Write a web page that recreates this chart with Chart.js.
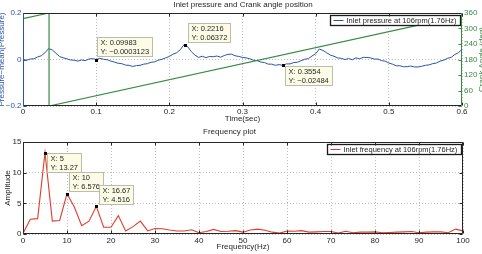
<!DOCTYPE html>
<html lang="en">
<head>
<meta charset="UTF-8">
<title>Inlet pressure and Crank angle position</title>
<style>
  html, body { margin: 0; padding: 0; background: #fff; overflow: hidden; width: 482px; height: 254px; }
  canvas { position: absolute; left: -4px; }
  #graficoPresion { top: 0; }
  #graficoFrecuencia { top: 125px; }
</style>
<script src="https://cdn.jsdelivr.net/npm/chart.js"></script>
</head>
<body>
<canvas id="graficoPresion" width="494" height="125"></canvas>
<canvas id="graficoFrecuencia" width="494" height="129"></canvas>
<script>
  // ---- datos ----
  const timeTicks = [0, 0.1, 0.2, 0.3, 0.4, 0.5, 0.6];
  const pressureTicks = [-0.2, 0, 0.2];
  const angleTicks = [0, 60, 120, 180, 240, 300, 360];
  const freqTicks = [0, 10, 20, 30, 40, 50, 60, 70, 80, 90, 100];
  const ampTicks = [0, 5, 10, 15];

  // presion - media, una muestra cada 5 ms
  const sampleStep = 0.005;
  const pressure = [
    0.000, -0.003, 0.002, 0.003, 0.011, 0.016, 0.029, 0.047, 0.041, 0.027,
    0.013, 0.007, 0.003, -0.002, -0.003, -0.007, -0.002, -0.005, 0.002, 0.004,
    0.000, 0.005, 0.001, -0.001, -0.007, -0.011, -0.016, -0.018, -0.024, -0.025,
    -0.030, -0.026, -0.025, -0.020, -0.018, -0.012, -0.010, -0.003, 0.001, 0.007,
    0.013, 0.023, 0.029, 0.042, 0.064, 0.055, 0.034, 0.019, 0.009, 0.014,
    0.008, 0.013, 0.012, 0.015, 0.010, 0.017, 0.022, 0.023, 0.016, 0.013,
    0.009, 0.007, 0.003, -0.003, -0.005, -0.011, -0.013, -0.020, -0.020, -0.025,
    -0.022, -0.025, -0.019, -0.019, -0.013, -0.012, -0.005, 0.001, 0.004, 0.015,
    0.025, 0.045, 0.039, 0.029, 0.019, 0.014, 0.007, 0.005, 0.000, 0.004,
    -0.001, 0.007, 0.003, 0.009, 0.009, 0.007, 0.002, 0.002, -0.005, -0.007,
    -0.015, -0.020, -0.027, -0.027, -0.031, -0.031, -0.028, -0.032, -0.032, -0.029,
    -0.025, -0.023, -0.018, -0.015, -0.007, -0.003, 0.005, 0.009, 0.021, 0.029,
    0.044
  ];

  const crankTime = [0, 0.0356, 0.0356, 0.6];
  const crankAngle = [338, 360, 0, 350];

  // espectro, resolucion 1/0.6 s
  const binWidth = 100 / 60;
  const amplitude = [
    0.1, 2.4, 2.5, 13.27, 2.1, 2.2, 6.576, 4.4, 1.35, 2.1,
    4.516, 1.1, 1.1, 3.0, 0.5, 1.2, 2.1, 0.5, 0.9, 0.85,
    0.65, 0.5, 0.5, 0.7, 0.2, 0.4, 0.75, 0.4, 0.45, 0.55,
    0.3, 0.65, 0.8, 0.6, 0.3, 0.15, 0.5, 0.45, 0.55, 0.3,
    0.35, 0.4, 0.4, 0.15, 0.45, 0.2, 0.3, 0.3, 0.35, 0.2,
    0.25, 0.3, 0.35, 0.4, 0.2, 0.3, 0.35, 0.35, 0.2, 0.8,
    0.5
  ];

  const pressureTipX = [0.09983, 0.2216, 0.3554];
  const pressureTipY = [-0.0003123, 0.06372, -0.02484];
  const freqTipX = [5, 10, 16.67];
  const freqTipY = [13.27, 6.576, 4.516];

  // ---- estilo ----
  const blue = '#2b54a6';
  const green = '#3a8a44';
  const red = '#e23b2e';
  const ink = '#262626';
  const gridColor = '#bdbdbd';
  const fontFamily = '"Liberation Sans", Arial, sans-serif';

  Chart.defaults.font.family = fontFamily;
  Chart.defaults.font.size = 8;
  Chart.defaults.color = ink;

  const fmt = v => String(v).replace('-', '\u2212');
  const fixTicks = list => s => { s.ticks = list.map(v => ({ value: v })); };

  // marco, marcas hacia dentro, datatips y leyenda estilo MATLAB
  const decorConfig = {
    graficoPresion: {
      frame: { top: ink, bottom: ink, left: blue, right: green },
      ticks: [
        { axis: 'x', edges: ['bottom', 'top'], color: ink },
        { axis: 'y', edges: ['left'], color: blue },
        { axis: 'y1', edges: ['right'], color: green }
      ],
      tips: { xAxis: 'x', yAxis: 'y', xs: pressureTipX, ys: pressureTipY,
              offsets: [[1, -22.5], [3, -21.5], [2, 1]] },
      legend: { text: 'Inlet pressure at 106rpm(1.76Hz)', color: blue },
      rightTitle: { text: 'Crank Angle (deg)', color: green, x: 486 }
    },
    graficoFrecuencia: {
      frame: { top: ink, bottom: ink, left: ink, right: ink },
      ticks: [
        { axis: 'x', edges: ['bottom', 'top'], color: ink },
        { axis: 'y', edges: ['left', 'right'], color: ink }
      ],
      tips: { xAxis: 'x', yAxis: 'y', xs: freqTipX, ys: freqTipY,
              offsets: [[2, 0.5], [2, -21.5], [3, -21.5]] },
      legend: { text: 'Inlet frequency at 106rpm(1.76Hz)', color: red }
    }
  };

  const matlabDecor = {
    id: 'matlabDecor',
    afterDatasetsDraw(chart) {
      const cfg = decorConfig[chart.canvas.id];
      if (!cfg) return;
      const ctx = chart.ctx, a = chart.chartArea;
      const L = Math.round(a.left) + 0.5, R = Math.round(a.right) - 0.5;
      const T = Math.round(a.top) + 0.5, B = Math.round(a.bottom) - 0.5;
      ctx.save();

      // datatips
      const xs = chart.scales[cfg.tips.xAxis], ys = chart.scales[cfg.tips.yAxis];
      ctx.font = '7.5px ' + fontFamily;
      ctx.textAlign = 'left';
      ctx.textBaseline = 'middle';
      cfg.tips.xs.forEach((xv, i) => {
        const yv = cfg.tips.ys[i];
        const px = xs.getPixelForValue(xv), py = ys.getPixelForValue(yv);
        const l1 = 'X: ' + fmt(xv), l2 = 'Y: ' + fmt(yv);
        const w = Math.ceil(Math.max(ctx.measureText(l1).width, ctx.measureText(l2).width)) + 6;
        const h = 19;
        const [dx, dy] = cfg.tips.offsets[i];
        const bx = Math.round(px + dx) + 0.5, by = Math.round(py + dy) + 0.5;
        ctx.fillStyle = '#fcfce6';
        ctx.fillRect(bx, by, w, h);
        ctx.lineWidth = 1;
        ctx.strokeStyle = '#bcbcaa';
        ctx.strokeRect(bx, by, w, h);
        ctx.fillStyle = ink;
        ctx.fillText(l1, bx + 3, by + 5.5);
        ctx.fillText(l2, bx + 3, by + 14);
        ctx.fillStyle = '#000';
        ctx.fillRect(Math.round(px) - 1, Math.round(py) - 1, 3, 3);
      });

      // leyenda
      const lg = cfg.legend;
      const tw = ctx.measureText(lg.text).width;
      const bw = Math.round(tw + 20), bh = 10;
      const bx = Math.round(a.right - 2 - bw) + 0.5, by = Math.round(a.top + 2) + 0.5;
      ctx.fillStyle = '#fff';
      ctx.fillRect(bx, by, bw, bh);
      ctx.strokeStyle = '#1a1a1a';
      ctx.lineWidth = 1.3;
      ctx.strokeRect(bx, by, bw, bh);
      ctx.strokeStyle = lg.color;
      ctx.lineWidth = 1;
      ctx.beginPath();
      ctx.moveTo(bx + 3, by + bh / 2);
      ctx.lineTo(bx + 13, by + bh / 2);
      ctx.stroke();
      ctx.fillStyle = ink;
      ctx.fillText(lg.text, bx + 16, by + bh / 2 + 0.5);

      // marcas hacia dentro
      ctx.lineWidth = 1;
      cfg.ticks.forEach(t => {
        const sc = chart.scales[t.axis];
        ctx.strokeStyle = t.color;
        ctx.beginPath();
        sc.ticks.forEach(tk => {
          const p = Math.round(sc.getPixelForValue(tk.value)) + 0.5;
          t.edges.forEach(e => {
            if (e === 'bottom') { ctx.moveTo(p, B); ctx.lineTo(p, B - 3); }
            if (e === 'top') { ctx.moveTo(p, T); ctx.lineTo(p, T + 3); }
            if (e === 'left') { ctx.moveTo(L, p); ctx.lineTo(L + 3, p); }
            if (e === 'right') { ctx.moveTo(R, p); ctx.lineTo(R - 3, p); }
          });
        });
        ctx.stroke();
      });

      // marco
      const f = cfg.frame;
      const side = (c, x1, y1, x2, y2) => {
        ctx.strokeStyle = c; ctx.beginPath(); ctx.moveTo(x1, y1); ctx.lineTo(x2, y2); ctx.stroke();
      };
      side(f.top, L, T, R, T);
      side(f.bottom, L, B, R, B);
      side(f.left, L, T, L, B);
      side(f.right, R, T, R, B);

      // titulo del eje derecho (recortado por el borde, como en la figura)
      if (cfg.rightTitle) {
        ctx.translate(cfg.rightTitle.x, (a.top + a.bottom) / 2);
        ctx.rotate(-Math.PI / 2);
        ctx.font = '8px ' + fontFamily;
        ctx.textAlign = 'center';
        ctx.fillStyle = cfg.rightTitle.color;
        ctx.fillText(cfg.rightTitle.text, 0, 0);
      }
      ctx.restore();
    }
  };

  const gridOpts = { color: gridColor, drawTicks: false };
  const dotted = { display: false, dash: [1, 2] };

  // ---- grafico de presion ----
  new Chart(document.getElementById('graficoPresion'), {
    type: 'line',
    data: {
      datasets: [{
        label: 'Inlet pressure at 106rpm(1.76Hz)',
        data: pressure.map((p, i) => ({ x: i * sampleStep, y: p })),
        borderColor: blue,
        borderWidth: 1,
        pointRadius: 0,
        yAxisID: 'y',
        order: 1
      }, {
        label: 'Crank angle',
        data: crankTime.map((t, i) => ({ x: t, y: crankAngle[i] })),
        borderColor: green,
        borderWidth: 1.2,
        pointRadius: 0,
        yAxisID: 'y1',
        order: 0
      }]
    },
    options: {
      responsive: false,
      animation: false,
      layout: { padding: 0 },
      plugins: {
        legend: { display: false },
        tooltip: { enabled: false },
        title: {
          display: true,
          text: 'Inlet pressure and Crank angle position',
          font: { size: 8, weight: 'normal' },
          color: ink,
          padding: { top: 0, bottom: 3.4 }
        }
      },
      scales: {
        x: {
          type: 'linear', min: 0, max: 0.6,
          afterBuildTicks: fixTicks(timeTicks),
          afterFit: s => { s.height = 19; },
          ticks: { padding: 1, maxRotation: 0, autoSkip: false, callback: v => fmt(v) },
          grid: gridOpts,
          border: dotted,
          title: { display: true, text: 'Time(sec)', padding: { top: 0, bottom: 1.9 } }
        },
        y: {
          position: 'left', min: -0.2, max: 0.2,
          afterBuildTicks: fixTicks(pressureTicks),
          afterFit: s => { s.width = 27; },
          ticks: { padding: 1.5, color: blue, autoSkip: false, callback: v => fmt(v) },
          grid: gridOpts,
          border: dotted,
          title: { display: true, text: 'Pressure\u2212mean(Pressure)', color: blue, padding: { top: 0.7, bottom: 0 } }
        },
        y1: {
          position: 'right', min: 0, max: 360,
          afterBuildTicks: fixTicks(angleTicks),
          afterFit: s => { s.width = 28; },
          ticks: { padding: 2, color: green, autoSkip: false, callback: v => fmt(v) },
          grid: { drawOnChartArea: false, drawTicks: false },
          border: { display: false }
        }
      }
    },
    plugins: [matlabDecor]
  });

  // ---- grafico de frecuencia ----
  new Chart(document.getElementById('graficoFrecuencia'), {
    type: 'line',
    data: {
      datasets: [{
        label: 'Inlet frequency at 106rpm(1.76Hz)',
        data: amplitude.map((v, i) => ({ x: i * binWidth, y: v })),
        borderColor: red,
        borderWidth: 1.1,
        pointRadius: 0
      }]
    },
    options: {
      responsive: false,
      animation: false,
      layout: { padding: { right: 27 } },
      plugins: {
        legend: { display: false },
        tooltip: { enabled: false },
        title: {
          display: true,
          text: 'Frequency plot',
          font: { size: 8, weight: 'normal' },
          color: ink,
          padding: { top: 2.2, bottom: 5.2 }
        }
      },
      scales: {
        x: {
          type: 'linear', min: 0, max: 100,
          afterBuildTicks: fixTicks(freqTicks),
          afterFit: s => { s.height = 20; },
          ticks: { padding: 1.5, maxRotation: 0, autoSkip: false, callback: v => fmt(v) },
          grid: gridOpts,
          border: dotted,
          title: { display: true, text: 'Frequency(Hz)', padding: { top: 0, bottom: 2.5 } }
        },
        y: {
          min: 0, max: 15,
          afterBuildTicks: fixTicks(ampTicks),
          afterFit: s => { s.width = 27; },
          ticks: { padding: 1.5, autoSkip: false, callback: v => fmt(v) },
          grid: gridOpts,
          border: dotted,
          title: { display: true, text: 'Amplitude', padding: { top: 7.2, bottom: 0 } }
        }
      }
    },
    plugins: [matlabDecor]
  });
</script>
</body>
</html>
